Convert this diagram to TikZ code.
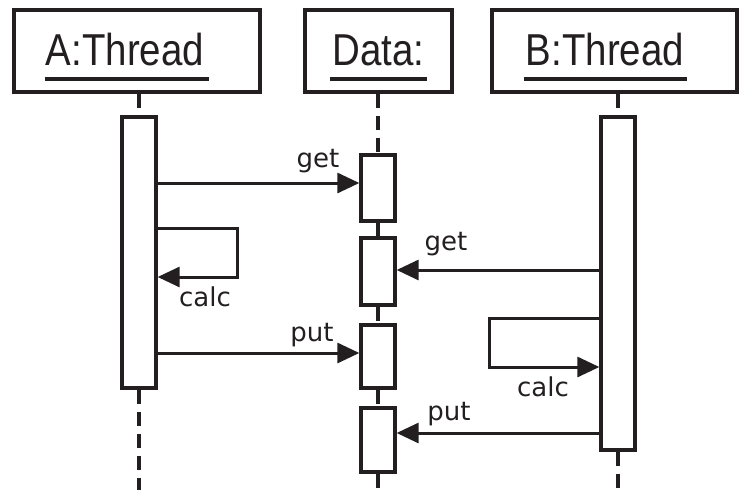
\documentclass[tikz,border=0pt]{standalone}
\usepackage{fontspec}
\setmainfont{Liberation Sans}
\newfontfamily\headfont[FakeStretch=0.86]{Liberation Sans}
\newfontfamily\labfont{DejaVu Sans}
\usetikzlibrary{arrows.meta}
\definecolor{ink}{RGB}{35,31,32}
\begin{document}
\begin{tikzpicture}[x=1pt,y=-1pt,
  hdr/.style={draw=ink, line width=3.6pt, minimum height=82pt, inner sep=0pt},
  htext/.style={font=\headfont\fontsize{44.7}{50}\selectfont, inner sep=0pt, anchor=base, text=ink},
  act/.style={draw=ink, fill=white, line width=3.3pt, minimum width=34pt, inner sep=0pt},
  life/.style={draw=ink, line width=3.3pt, dash pattern=on 14pt off 8pt},
  msg/.style={draw=ink, line width=3pt, -{Triangle[length=22pt,width=20pt]}},
  lbl/.style={font=\labfont\fontsize{26}{30}\selectfont, text=ink, inner sep=0pt, anchor=base},
  uline/.style={draw=ink, line width=4.2pt}]
\useasboundingbox (0,0) rectangle (740,490);
\fill[white] (0,0) rectangle (740,490);

% header boxes
\node[hdr, minimum width=246pt] (A) at (137,51) {};
\node[hdr, minimum width=147pt] (D) at (378.5,51) {};
\node[hdr, minimum width=245pt] (B) at (614.5,51) {};
\node[htext] (tA) at (125,65) {A:Thread};
\node[htext] (tD) at (378.5,65) {Data:};
\node[htext] (tB) at (605,65) {B:Thread};
\draw[uline] ([xshift=-1pt,yshift=-14pt]tA.base west) -- ([xshift=5pt,yshift=-14pt]tA.base east);
\draw[uline] ([xshift=-2pt,yshift=-14pt]tD.base west) -- ([xshift=2pt,yshift=-14pt]tD.base east);
\draw[uline] ([xshift=-2pt,yshift=-14pt]tB.base west) -- ([xshift=3pt,yshift=-14pt]tB.base east);

% activation boxes
\node[act, minimum height=271pt] (aact) at (139,252.5) {};
\node[act, minimum height=333pt] (bact) at (618,283.5) {};
\node[act, minimum height=66pt] (d1) at (378,188) {};
\node[act, minimum height=67pt] (d2) at (378,271.5) {};
\node[act, minimum height=63pt] (d3) at (378,356.5) {};
\node[act, minimum height=64pt] (d4) at (378,440) {};

% lifelines
\coordinate (aend) at (139,492);
\coordinate (dend) at (378,492);
\coordinate (bend) at (618,492);
\draw[life] (aact.north |- A.south) -- (aact.north);
\draw[life] (aact.south) -- (aend);
\draw[life] (d1.north |- D.south) -- (d1.north);
\draw[life] (d1.south) -- (d2.north);
\draw[life] (d2.south) -- (d3.north);
\draw[life] (d3.south) -- (d4.north);
\draw[life] (d4.south) -- (dend);
\draw[life] (bact.north |- B.south) -- (bact.north);
\draw[life] (bact.south) -- (bend);

% messages
\draw[msg] (aact.east |- 0,183) -- (d1.west |- 0,183);
\node[lbl] (l1) at (318,167) {get};
\draw[msg] (aact.east |- 0,228) -- (237,228) -- (237,277) -- (aact.east |- 0,277);
\node[lbl] (l2) at (205,306) {calc};
\draw[msg] (bact.west |- 0,270) -- (d2.east |- 0,270);
\node[lbl] (l3) at (446,250) {get};
\draw[msg] (bact.west |- 0,318) -- (489,318) -- (489,367) -- (bact.west |- 0,367);
\node[lbl] (l4) at (543,396) {calc};
\draw[msg] (aact.east |- 0,353) -- (d3.west |- 0,353);
\node[lbl] (l5) at (312,341) {put};
\draw[msg] (bact.west |- 0,433) -- (d4.east |- 0,433);
\node[lbl] (l6) at (449,420) {put};
\end{tikzpicture}
\end{document}
